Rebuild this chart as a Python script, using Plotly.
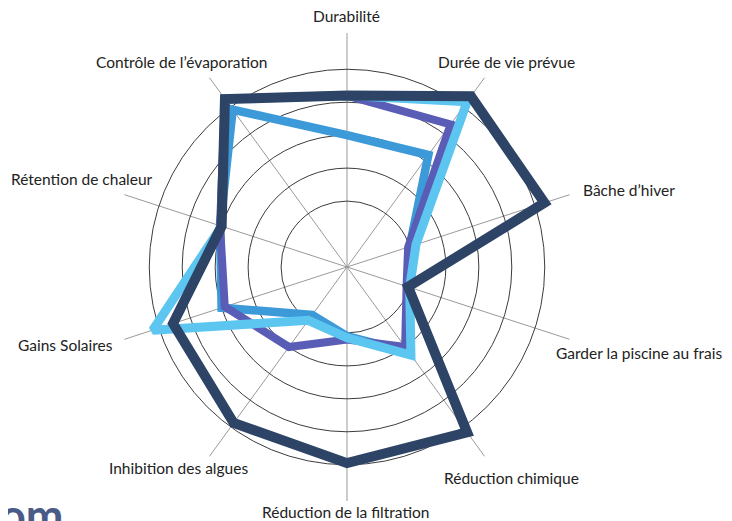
import math
import plotly.graph_objects as go

categories = [
    "Durabilité",
    "Durée de vie prévue",
    "Bâche d’hiver",
    "Garder la piscine au frais",
    "Réduction chimique",
    "Réduction de la filtration",
    "Inhibition des algues",
    "Gains Solaires",
    "Rétention de chaleur",
    "Contrôle de l’évaporation",
]

series_dark = [5.2, 6.4, 6.3, 1.95, 6.2, 5.95, 5.85, 5.55, 4.0, 6.3]
series_purple = [5.2, 5.35, 1.95, 1.9, 3.0, 2.2, 3.0, 3.9, 4.05, 6.3]
series_medium = [4.0, 4.2, 2.0, 2.0, 3.2, 2.1, 1.8, 4.0, 4.05, 5.9]
series_light = [5.2, 6.2, 2.2, 2.0, 3.3, 2.15, 2.0, 6.2, 4.0, 6.3]

ring_values = [2, 3, 4, 5, 6]
r_max = 7.1

# label layout: anchor and pixel offset from the end of each spoke
label_anchor = ["center", "center", "left", "left", "center",
                "center", "center", "right", "right", "center"]
label_offset = [(-1, -17), (22, -16), (11, -5), (-16, 14), (27, 22),
                (-2, 11), (-31, 12), (-9, 6), (31, -16), (-28, -16)]

# geometry of the page (body has an 8px margin in the browser)
W, H = 724, 513
cx, cy, R = 339, 259, 234

fig = go.Figure()

def closed(v):
    return list(v) + [v[0]]

for vals, color, width in [
    (series_medium, "#3d9ad8", 8.5),
    (series_purple, "#5a5db6", 8),
    (series_light, "#5cc6f0", 9),
    (series_dark, "#2e4467", 10),
]:
    fig.add_trace(go.Scatterpolar(
        r=closed(vals), theta=closed(categories), mode="lines",
        line=dict(color=color, width=width), hoverinfo="skip",
        showlegend=False,
    ))

annotations = []
n = len(categories)
for i, (name, anc, (dx, dy)) in enumerate(zip(categories, label_anchor, label_offset)):
    ang = math.radians(90 - 360 * i / n)
    px = cx + R * math.cos(ang)
    py = cy - R * math.sin(ang)
    annotations.append(dict(
        text=name, xref="paper", yref="paper",
        x=px / W, y=1 - py / H, xanchor=anc, yanchor="middle",
        xshift=dx, yshift=-dy, showarrow=False,
        font=dict(family="Lato", size=15.5, color="#222"),
    ))

annotations.append(dict(
    text="<b>om</b>", xref="paper", yref="paper", x=-10 / W, y=0.0117,
    xanchor="left", yanchor="middle", showarrow=False,
    font=dict(family="Lato", size=45, color="#4a5b88"),
))

fig.update_layout(
    width=W, height=H,
    margin=dict(l=0, r=0, t=0, b=0),
    paper_bgcolor="white",
    plot_bgcolor="white",
    showlegend=False,
    polar=dict(
        domain=dict(x=[(cx - R) / W, (cx + R) / W],
                    y=[(H - cy - R) / H, (H - cy + R) / H]),
        bgcolor="rgba(0,0,0,0)",
        radialaxis=dict(range=[0, r_max], tickvals=ring_values,
                        showticklabels=False, ticks="", showline=False,
                        gridcolor="#3c3c3c", gridwidth=1),
        angularaxis=dict(categoryorder="array", categoryarray=categories,
                         rotation=90, direction="clockwise",
                         showticklabels=False, ticks="", showline=False,
                         gridcolor="#9a9a9a", gridwidth=1),
    ),
    annotations=annotations,
)

fig.write_html("out.html")
